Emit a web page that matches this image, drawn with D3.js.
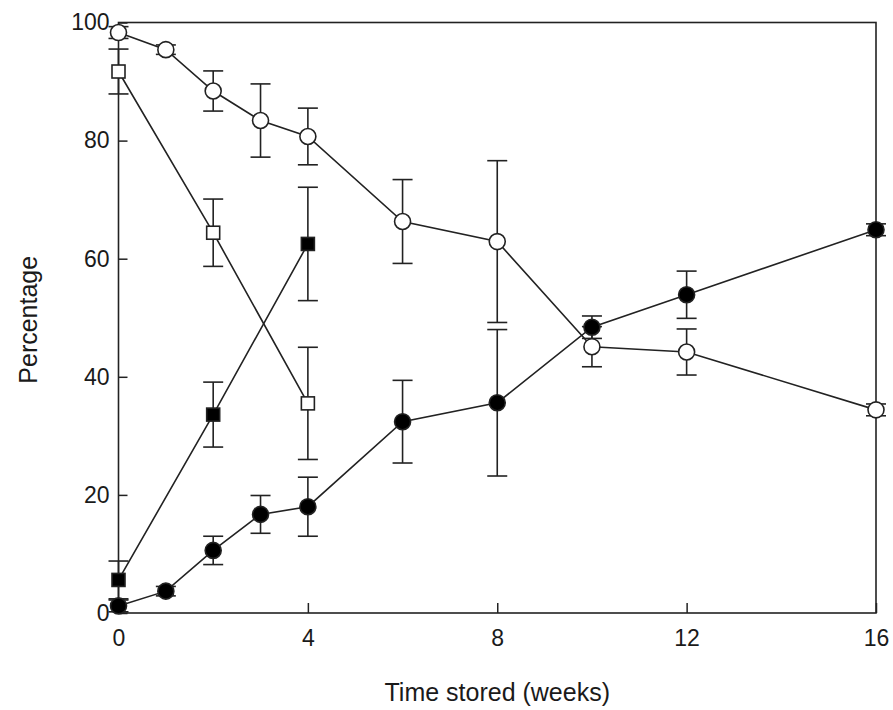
<!DOCTYPE html>
<html>
<head>
    <title>Time stored (weeks)</title>
    <script src="https://d3js.org/d3.v7.min.js"></script>
    <style>
        body {
            margin: 0;
            background: #ffffff;
            font-family: 'Liberation Sans', Arial, sans-serif;
        }
        #chart text {
            fill: #1a1a1a;
        }
    </style>
</head>
<body>
    <div id="chart"></div>

    <script>
        // weeks for the circle series and the square series
        const weeksCircle = [0, 1, 2, 3, 4, 6, 8, 10, 12, 16];
        const weeksSquare = [0, 2, 4];

        const openCircle      = [98.3, 95.4, 88.4, 83.4, 80.7, 66.3, 62.9, 45.1, 44.2, 34.4];
        const openCircleErr   = [1.0, 0.8, 3.4, 6.2, 4.8, 7.1, 13.7, 3.4, 3.9, 1.0];
        const filledCircle    = [1.2, 3.7, 10.6, 16.7, 18.0, 32.4, 35.6, 48.4, 53.9, 64.9];
        const filledCircleErr = [1.0, 0.8, 2.4, 3.2, 5.0, 7.0, 12.4, 1.9, 4.0, 1.0];
        const openSquare      = [91.7, 64.4, 35.5];
        const openSquareErr   = [3.8, 5.7, 9.5];
        const filledSquare    = [5.6, 33.6, 62.5];
        const filledSquareErr = [3.2, 5.5, 9.6];

        const xTicks = [0, 4, 8, 12, 16];
        const yTicks = [0, 20, 40, 60, 80, 100];

        const width = 893, height = 710;
        const margin = {left: 118.5, right: 17, top: 22.5, bottom: 97};

        const svg = d3.select('#chart')
            .append('svg')
            .attr('width', width)
            .attr('height', height);

        const x = d3.scaleLinear().domain([0, 16]).range([margin.left, width - margin.right]);
        const y = d3.scaleLinear().domain([0, 100]).range([height - margin.bottom, margin.top]);

        const ink = '#222222';

        // frame
        svg.append('rect')
            .attr('x', x(0))
            .attr('y', y(100))
            .attr('width', x(16) - x(0))
            .attr('height', y(0) - y(100))
            .attr('fill', 'none')
            .attr('stroke', ink)
            .attr('stroke-width', 1.6);

        // axes with inward ticks
        const xAxis = svg.append('g')
            .attr('transform', `translate(0,${y(0)})`)
            .call(d3.axisBottom(x).tickValues(xTicks).tickSize(-10).tickPadding(17));
        const yAxis = svg.append('g')
            .attr('transform', `translate(${x(0)},0)`)
            .call(d3.axisLeft(y).tickValues(yTicks).tickSize(-9).tickPadding(9));

        [xAxis, yAxis].forEach(g => {
            g.select('.domain').remove();
            g.selectAll('line').attr('stroke', ink).attr('stroke-width', 1.5);
            g.selectAll('text')
                .attr('font-size', '23px')
                .attr('font-family', "'Liberation Sans', Arial, sans-serif")
                .attr('fill', '#1a1a1a');
        });

        // axis titles
        svg.append('text')
            .attr('x', (x(0) + x(16)) / 2)
            .attr('y', 701)
            .attr('text-anchor', 'middle')
            .attr('font-size', '25px')
            .text('Time stored (weeks)');

        svg.append('text')
            .attr('transform', `translate(37,${(y(0) + y(100)) / 2 + 2}) rotate(-90)`)
            .attr('text-anchor', 'middle')
            .attr('font-size', '25px')
            .text('Percentage');

        function build(weeks, vals, errs) {
            return weeks.map((w, i) => ({w: w, v: vals[i], e: errs[i]}));
        }

        const series = [
            {data: build(weeksSquare, openSquare, openSquareErr), shape: 'square', fill: '#ffffff'},
            {data: build(weeksSquare, filledSquare, filledSquareErr), shape: 'square', fill: '#000000'},
            {data: build(weeksCircle, openCircle, openCircleErr), shape: 'circle', fill: '#ffffff'},
            {data: build(weeksCircle, filledCircle, filledCircleErr), shape: 'circle', fill: '#000000'}
        ];

        const line = d3.line().x(d => x(d.w)).y(d => y(d.v));
        const cap = 10;

        // connecting lines
        series.forEach(s => {
            svg.append('path')
                .datum(s.data)
                .attr('d', line)
                .attr('fill', 'none')
                .attr('stroke', ink)
                .attr('stroke-width', 1.6);
        });

        // error bars
        series.forEach(s => {
            const g = svg.append('g').attr('stroke', ink).attr('stroke-width', 1.6);
            s.data.forEach(d => {
                const cx = x(d.w), top = y(d.v + d.e), bot = y(d.v - d.e);
                g.append('line').attr('x1', cx).attr('x2', cx).attr('y1', top).attr('y2', bot);
                g.append('line').attr('x1', cx - cap).attr('x2', cx + cap).attr('y1', top).attr('y2', top);
                g.append('line').attr('x1', cx - cap).attr('x2', cx + cap).attr('y1', bot).attr('y2', bot);
            });
        });

        // markers
        series.forEach(s => {
            const g = svg.append('g');
            if (s.shape === 'circle') {
                g.selectAll('circle')
                    .data(s.data)
                    .enter().append('circle')
                    .attr('cx', d => x(d.w))
                    .attr('cy', d => y(d.v))
                    .attr('r', 8)
                    .attr('fill', s.fill)
                    .attr('stroke', ink)
                    .attr('stroke-width', 1.6);
            } else {
                g.selectAll('rect')
                    .data(s.data)
                    .enter().append('rect')
                    .attr('x', d => x(d.w) - 6.5)
                    .attr('y', d => y(d.v) - 6.5)
                    .attr('width', 13)
                    .attr('height', 13)
                    .attr('fill', s.fill)
                    .attr('stroke', ink)
                    .attr('stroke-width', 1.6);
            }
        });
    </script>
</body>
</html>
